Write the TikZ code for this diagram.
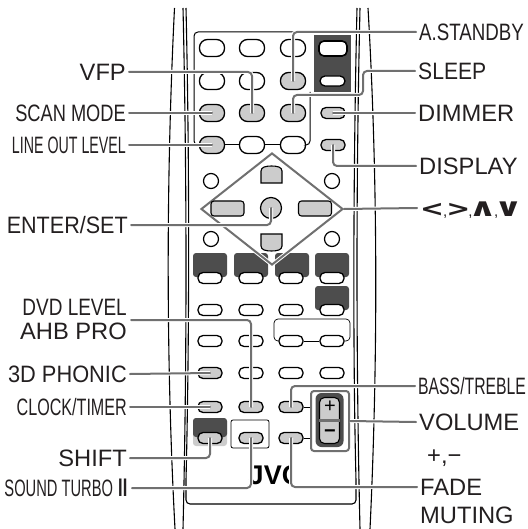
\documentclass[tikz,border=0pt]{standalone}
\usepackage{fontspec}
\usepackage{xcolor}
\usepackage{tikz}
\usetikzlibrary{shapes.geometric}
\setmainfont{Liberation Sans}
\newfontfamily\romanfont{DejaVu Sans}
\newfontfamily\arrowfont{DejaVu Sans Bold}
\definecolor{remotedark}{HTML}{4D4D4D}
\definecolor{remotegray}{HTML}{CCCCCC}
\definecolor{leadgray}{HTML}{707070}
\definecolor{inkblack}{HTML}{231F20}
\newcommand{\squeeze}[2]{\scalebox{#1}[1]{#2}}
\newcommand{\comma}{{\normalfont\fontsize{15}{15}\selectfont,}}
\tikzset{
  bigbtn/.style={draw=black, fill=white, line width=1.3pt, rounded corners=8pt,
        minimum width=25pt, minimum height=17pt, inner sep=0pt},
  smallbtn/.style={draw=black, fill=white, line width=1.3pt, rounded corners=5pt,
        minimum width=24pt, minimum height=11pt, inner sep=0pt},
  hot/.style={fill=remotegray},
  darkblock/.style={fill=remotedark, rounded corners=3pt},
  bodyline/.style={draw=black, line width=1.1pt},
  thinline/.style={draw=black, line width=1pt, rounded corners=4pt},
  leader/.style={draw=leadgray, line width=2pt, rounded corners=4pt, line cap=round,
        preaction={draw=white, line width=4pt}},
  leftlabel/.style={anchor=east, text=inkblack, inner sep=3pt, text height=17pt, text depth=0pt,
        font=\fontsize{23.7}{26}\selectfont},
  rightlabel/.style={anchor=west, text=inkblack, inner sep=3pt, text height=17pt, text depth=0pt,
        font=\fontsize{23.7}{26}\selectfont},
}
\begin{document}
\begin{tikzpicture}[x=1pt, y=-1pt]
  \useasboundingbox (0,0) rectangle (527,529);

  % remote control body
  \draw[bodyline] (174.5,8) .. controls (166,180) and (166,360) .. (175,529);
  \draw[bodyline] (368,8) .. controls (378,180) and (378,360) .. (370,529);
  \draw[bodyline] (183,8) .. controls (187,180) and (187,360) .. (183,529);
  \draw[bodyline] (360,8) .. controls (356,180) and (356,360) .. (360,529);
  \draw[bodyline] (186,8) .. controls (190,180) and (189,360) .. (186,480)
        [rounded corners=4pt] -- (186,504) -- (356,504) -- (356,480)
        [sharp corners] .. controls (353,360) and (353,180) .. (357,8);

  % dark blocks
  \fill[remotedark] (314,35) rectangle (351,92);
  \fill[darkblock] (193,253) rectangle (227,277);
  \fill[darkblock] (234,253) rectangle (268,277);
  \fill[darkblock] (275,253) rectangle (309,277);
  \fill[darkblock] (315,253) rectangle (349,277);
  \fill[darkblock] (315,286) rectangle (349,310);
  \fill[remotegray, rounded corners=3pt] (193,418) rectangle (227,446);
  \fill[darkblock] (193,418) rectangle (227,437);

  % buttons, upper part
  \foreach \bx/\by/\bn in {212/48/A1, 252/48/A2, 293/48/A3, 212/81/B1, 252/81/B2,
        252/145/D2, 293/145/D3}
    \node[bigbtn] (btn\bn) at (\bx,\by) {};
  \foreach \bx/\by/\bn in {293/81/B3, 212/113/C1, 252/113/C2, 293/113/C3, 212/145/D1}
    \node[bigbtn, hot] (btn\bn) at (\bx,\by) {};
  \node[draw=black, fill=white, line width=1.6pt, rounded corners=5pt, minimum width=28pt,
        minimum height=15pt, inner sep=0pt] (btnPowerA) at (333,48.5) {};
  \node[smallbtn, minimum width=25pt, minimum height=10pt] (btnPowerB) at (332.5,81) {};
  \node[smallbtn, hot] (btnDimmer) at (333,113) {};
  \node[smallbtn, hot] (btnDisplay) at (333,145) {};

  % frame lines between the upper buttons
  \draw[thinline] (314,32) -- (194,32) -- (194,145) -- (btnD1.west);
  \draw[thinline] (310,92) -- (310,145) -- (btnD3.east);
  \draw[thinline] (btnD1.east) -- (btnD2.west);
  \draw[thinline] (btnD2.east) -- (btnD3.west);

  % cursor pad
  \foreach \bx/\by/\bn in {211/181/A, 332/181/B, 211/239/C, 332/239/D}
    \node[circle, draw=black, fill=white, line width=1.2pt, minimum size=15pt, inner sep=0pt]
        (dot\bn) at (\bx,\by) {};
  \node[draw=leadgray, line width=2pt, diamond, aspect=1.27, minimum width=142pt, minimum height=112pt,
        inner sep=0pt, preaction={draw=white, line width=4pt}] (padFrame) at (272,209) {};
  \draw[draw=black, fill=remotegray, line width=1.1pt] (261,183) -- (282,183) -- (282,171)
        .. controls (282,167) and (277,166) .. (271.5,166) .. controls (266,166) and (261,167) .. (261,171) -- cycle;
  \draw[draw=black, fill=remotegray, line width=1.1pt] (261,234) -- (282,234) -- (282,246)
        .. controls (282,250) and (277,251) .. (271.5,251) .. controls (266,251) and (261,250) .. (261,246) -- cycle;
  \node[draw=black, fill=remotegray, line width=1.1pt, rounded corners=3pt, minimum width=33pt,
        minimum height=15pt, inner sep=0pt] (padLeft) at (227.5,208.5) {};
  \node[draw=black, fill=remotegray, line width=1.1pt, rounded corners=3pt, minimum width=33pt,
        minimum height=15pt, inner sep=0pt] (padRight) at (315,208.5) {};
  \node[circle, draw=black, fill=remotegray, line width=1.2pt, minimum size=21pt, inner sep=0pt]
        (btnEnter) at (271,208) {};

  % buttons, lower part
  \foreach \bx/\by/\bn in {210/278/E1, 251/278/E2, 291/278/E3, 332/278/E4,
        210/310/F1, 251/310/F2, 291/310/F3, 332/310/F4,
        210/341/G1, 251/341/G2, 291/341/G3, 332/341/G4,
        251/373/H2, 291/373/H3, 332/373/H4}
    \node[smallbtn] (btn\bn) at (\bx,\by) {};
  \foreach \bx/\by/\bn in {210/373/H1, 210/407/J1, 251/407/J2, 291/407/J3,
        210/438/K1, 251/438/K2, 291/438/K3}
    \node[smallbtn, hot] (btn\bn) at (\bx,\by) {};
  \draw[thinline, line width=0.7pt] (btnG3.west) -- (274,341) -- (274,319) -- (350,319) -- (350,341) -- (btnG4.east);
  \draw[thinline, line width=0.7pt] (btnG3.east) -- (btnG4.west);
  \node[draw=black, line width=0.8pt, rounded corners=2pt, minimum width=38pt, minimum height=28pt,
        inner sep=0pt] (boxTurbo) at (250,434) {};

  % volume rocker
  \node[draw=leadgray, fill=white, line width=2pt, rounded corners=3pt, minimum width=38pt,
        minimum height=60pt, inner sep=0pt] (volFrame) at (330,421) {};
  \draw[thinline] (btnJ3.east) -- (btnJ3.east -| volFrame.west);
  \draw[thinline] (btnK3.east) -- (btnK3.east -| volFrame.west);
  \node[fill=remotedark, rounded corners=6pt, minimum width=28pt, minimum height=54pt,
        inner sep=0pt] (volDark) at (329.5,420) {};
  \node[draw=black, fill=remotegray, line width=1.1pt, rounded corners=5pt, minimum width=20pt,
        minimum height=46pt, inner sep=0pt] (volKey) at (329.5,420.5) {};
  \draw[draw=leadgray, line width=2.5pt] (volKey.west) -- (volKey.east);
  \node[inner sep=0pt, font=\fontsize{20}{20}\selectfont] (volPlus) at (330,407) {+};
  \node[inner sep=0pt, font=\fontsize{20}{20}\selectfont\bfseries] (volMinus) at (330,434) {−};

  % maker name
  \begin{scope}
    \clip (240,460) rectangle (292,490);
    \node[inner sep=0pt, font=\fontsize{27}{27}\selectfont\bfseries] (lblMaker) at (275,475) {JVC};
  \end{scope}

  % labels
  \node[leftlabel] (lblVfp) at (129,72) {VFP};
  \node[leftlabel] (lblScan) at (129,113) {\squeeze{0.77}{SCAN MODE}};
  \node[leftlabel] (lblLine) at (129,145) {\squeeze{0.6}{LINE OUT LEVEL}};
  \node[leftlabel] (lblEnter) at (131,225) {\squeeze{0.91}{ENTER/SET}};
  \node[leftlabel] (lblDvd) at (130,307) {\squeeze{0.8}{DVD LEVEL}};
  \node[leftlabel] (lblAhb) at (130,331) {AHB PRO};
  \node[leftlabel] (lblPhonic) at (130,374) {\squeeze{0.92}{3D PHONIC}};
  \node[leftlabel] (lblClock) at (130,407) {\squeeze{0.68}{CLOCK/TIMER}};
  \node[leftlabel] (lblShift) at (130,458) {SHIFT};
  \node[leftlabel] (lblTurbo) at (132,488) {\squeeze{0.62}{SOUND TURBO}\,{\romanfont\fontsize{24}{24}\selectfont Ⅱ}};
  \node[rightlabel] (lblStandby) at (416,32) {\squeeze{0.79}{A.STANDBY}};
  \node[rightlabel] (lblSleep) at (415,71) {\squeeze{0.89}{SLEEP}};
  \node[rightlabel] (lblDimmer) at (415,113) {DIMMER};
  \node[rightlabel] (lblDisplay) at (416,166) {DISPLAY};
  \node[rightlabel] (lblArrows) at (417,208) {\arrowfont\fontsize{22}{22}\selectfont
        \scalebox{1.3}[1]{<}\kern-1pt\comma\kern-1pt\scalebox{1.3}[1]{>}\kern-2pt\comma\kern-4pt\scalebox{1.6}[1.15]{∧}\kern-3pt\comma\kern-4pt\scalebox{1.6}[1.15]{∨}};
  \node[rightlabel] (lblBass) at (415,386) {\squeeze{0.665}{BASS/TREBLE}};
  \node[rightlabel] (lblVolume) at (416,422) {VOLUME};
  \node[rightlabel] (lblSign) at (424,455) {+,−};
  \node[rightlabel] (lblFade) at (417,487) {FADE};
  \node[rightlabel] (lblMuting) at (417,515) {MUTING};

  % leaders
  \coordinate (dvdEnd) at (131,320);
  \coordinate (sleepBend) at (363,95);
  \draw[leader] (lblVfp.east) -| (btnC2.center);
  \draw[leader] (lblScan.east) -- (btnC1.center);
  \draw[leader] (lblLine.east) -- (btnD1.center);
  \draw[leader] (lblEnter.east) -| (btnEnter.center);
  \draw[leader] (dvdEnd) -| (btnJ2.center);
  \draw[leader] (lblPhonic.east) -- (btnH1.center);
  \draw[leader] (lblClock.east) -- (btnJ1.center);
  \draw[leader] (lblShift.east) -| (btnK1.center);
  \draw[leader] (lblTurbo.east) -| (btnK2.center);
  \draw[leader] (lblStandby.west) -| (btnB3.center);
  \draw[leader] (lblSleep.west) -| (sleepBend) -| (btnC3.center);
  \draw[leader] (lblDimmer.west) -- (btnDimmer.center);
  \draw[leader] (lblDisplay.west) -| (btnDisplay.center);
  \draw[leader] (lblArrows.west) -- (padFrame.east);
  \draw[leader] (lblBass.west) -| (btnJ3.center);
  \draw[leader] (lblVolume.west) -- (volFrame.east);
  \draw[leader] (lblFade.west) -| (btnK3.center);
\end{tikzpicture}
\end{document}
